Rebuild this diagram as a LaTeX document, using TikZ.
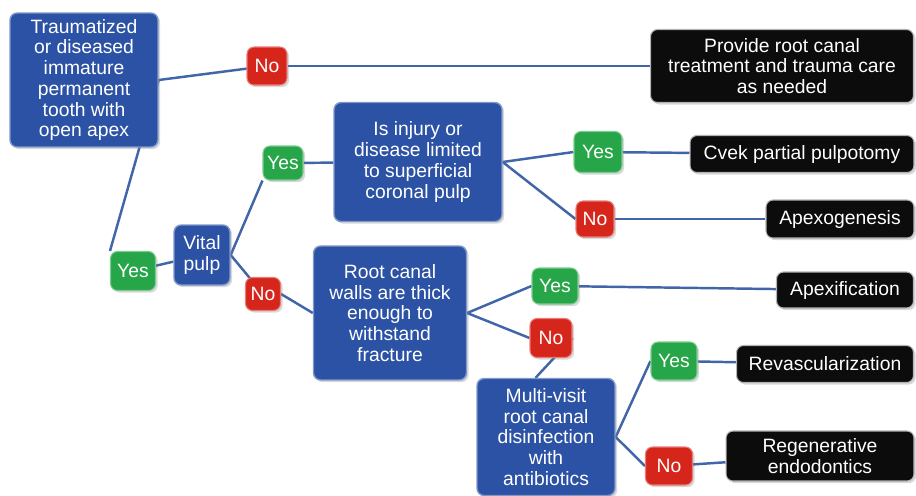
\documentclass[tikz,border=0pt]{standalone}
\usepackage{fontspec}
\setmainfont{Liberation Sans}
\usetikzlibrary{backgrounds,shadows}

\begin{document}
\begin{tikzpicture}[x=0.02cm, y=-0.02cm]
    % Colors
    \definecolor{boxblue}{RGB}{44,82,165}
    \definecolor{boxgreen}{RGB}{38,166,72}
    \definecolor{boxred}{RGB}{214,38,28}
    \definecolor{boxblack}{RGB}{12,12,12}
    \definecolor{linkblue}{RGB}{64,101,168}

    % Styling
    \tikzset{
        c_base/.style={rounded corners=4pt, align=center, text=white, inner sep=1pt,
            font=\fontsize{11}{11.8}\selectfont,
            drop shadow={opacity=0.3, shadow xshift=1.2pt, shadow yshift=-1.2pt}},
        c_question/.style={c_base, fill=boxblue, draw=boxblue!60!white, line width=0.8pt},
        c_yes/.style={c_base, fill=boxgreen, draw=boxgreen!60!white, line width=0.6pt},
        c_no/.style={c_base, fill=boxred, draw=boxred!60!white, line width=0.6pt},
        c_result/.style={c_base, fill=boxblack, draw=gray!60, line width=0.6pt},
        c_link/.style={draw=linkblue, line width=1.4pt}
    }

    \useasboundingbox (0,0) rectangle (916,495);

    % Question boxes
    \node[c_question, minimum width=2.96cm, minimum height=2.68cm] (tooth) at (84,80)
        {Traumatized\\or diseased\\immature\\permanent\\tooth with\\open apex};
    \node[c_question, minimum width=1.12cm, minimum height=1.2cm] (vital) at (202,255)
        {Vital\\pulp};
    \node[c_question, minimum width=3.36cm, minimum height=2.38cm] (limited) at (418,162)
        {Is injury or\\disease limited\\to superficial\\coronal pulp};
    \node[c_question, minimum width=3.06cm, minimum height=2.68cm] (walls) at (390,313)
        {Root canal\\walls are thick\\enough to\\withstand\\fracture};
    \node[c_question, minimum width=2.76cm, minimum height=2.34cm] (multi) at (546,437)
        {Multi-visit\\root canal\\disinfection\\with\\antibiotics};

    % Yes / No boxes
    \node[c_no, minimum width=0.8cm, minimum height=0.76cm] (noA) at (267,66) {No};
    \node[c_yes, minimum width=0.9cm, minimum height=0.78cm] (yesA) at (133,271) {Yes};
    \node[c_yes, minimum width=0.8cm, minimum height=0.68cm] (yesB) at (283,163) {Yes};
    \node[c_no, minimum width=0.7cm, minimum height=0.66cm] (noB) at (263,294) {No};
    \node[c_yes, minimum width=0.96cm, minimum height=0.82cm] (yesC) at (598,152) {Yes};
    \node[c_no, minimum width=0.76cm, minimum height=0.72cm] (noC) at (595,219) {No};
    \node[c_yes, minimum width=0.92cm, minimum height=0.72cm] (yesD) at (555,286) {Yes};
    \node[c_no, minimum width=0.84cm, minimum height=0.78cm] (noD) at (551,338) {No};
    \node[c_yes, minimum width=0.92cm, minimum height=0.76cm] (yesE) at (674,361) {Yes};
    \node[c_no, minimum width=0.94cm, minimum height=0.76cm] (noE) at (669,466) {No};

    % Result boxes
    \node[c_result, minimum width=5.26cm, minimum height=1.46cm] (provide) at (782,66)
        {Provide root canal\\treatment and trauma care\\as needed};
    \node[c_result, minimum width=4.48cm, minimum height=0.74cm] (cvek) at (802,154)
        {Cvek partial pulpotomy};
    \node[c_result, minimum width=2.96cm, minimum height=0.76cm] (apexo) at (840,219)
        {Apexogenesis};
    \node[c_result, minimum width=2.74cm, minimum height=0.72cm] (apexi) at (845,290)
        {Apexification};
    \node[c_result, minimum width=3.54cm, minimum height=0.74cm] (revasc) at (825,364)
        {Revascularization};
    \node[c_result, minimum width=3.76cm, minimum height=1.0cm] (regen) at (820,456)
        {Regenerative\\endodontics};

    % Connectors
    \begin{pgfonlayer}{background}
        \draw[c_link] (noA.center) -- (tooth.east) -- (yesA.north west);
        \draw[c_link] (noA) -- (provide);
        \draw[c_link] (yesA) -- (vital);
        \draw[c_link] (yesB.south west) -- (vital.east) -- (noB.center);
        \draw[c_link] (yesB) -- (limited);
        \draw[c_link] (noB.east) -- (walls.west);
        \draw[c_link] (yesC.west) -- (limited.east) -- (noC.west);
        \draw[c_link] (yesC) -- (cvek);
        \draw[c_link] (noC) -- (apexo);
        \draw[c_link] (yesD.west) -- (walls.east) -- (noD.west);
        \draw[c_link] (yesD) -- (apexi);
        \draw[c_link] (noD.east) -- (multi.100);
        \draw[c_link] (yesE.west) -- (multi.east) -- (noE.west);
        \draw[c_link] (yesE) -- (revasc);
        \draw[c_link] (noE) -- (regen);
    \end{pgfonlayer}
\end{tikzpicture}
\end{document}
